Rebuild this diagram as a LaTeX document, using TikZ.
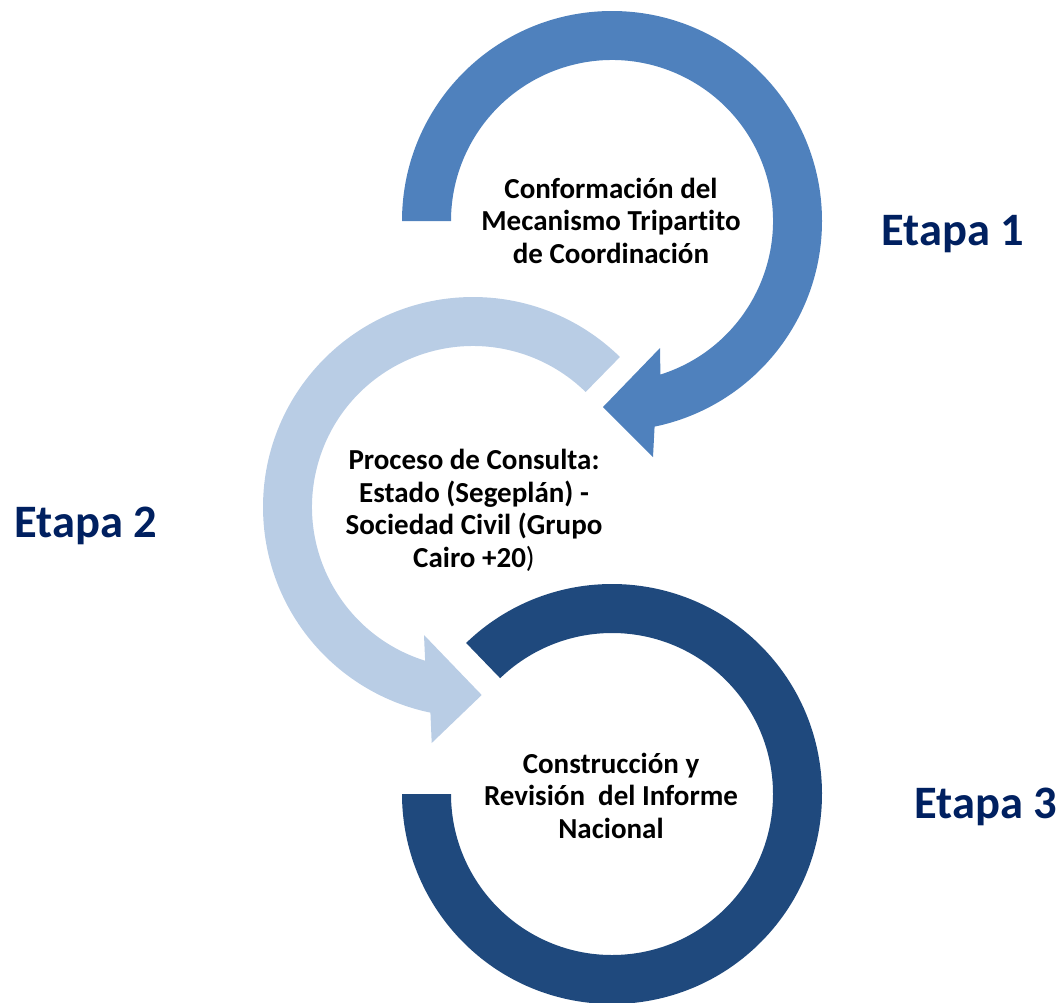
\documentclass[tikz,border=0pt]{standalone}
\usepackage{fontspec}
\setmainfont{Carlito}[Ligatures={NoCommon}]
\usetikzlibrary{calc}
\definecolor{ringA}{HTML}{4F81BD}
\definecolor{ringB}{HTML}{B9CDE5}
\definecolor{ringC}{HTML}{1F497D}
\definecolor{etapa}{HTML}{002060}
\begin{document}
\begin{tikzpicture}[x=1pt,y=-1pt,
  inner/.style={align=center,font=\bfseries\fontsize{29}{32.5}\selectfont,text=black,inner sep=0pt,anchor=base},
  stage/.style={font=\bfseries\fontsize{46.5}{50}\selectfont,text=etapa,inner sep=0pt,anchor=base}]
\useasboundingbox (0,0) rectangle (1060,1002);
% centres
\coordinate (cA) at (612,221);
\coordinate (cB) at (473,507);
\coordinate (cC) at (612,794);
% ring 1
\fill[ringA] ($(cA)+(180:210)$) arc[start angle=180, end angle=438.3, radius=210]
  -- (653,457) -- (603,407) -- (660,348)
  -- ($(cA)+(432.5:161)$) arc[start angle=432.5, end angle=180, radius=161] -- cycle;
% ring 2
\fill[ringB] ($(cB)+(-45.6:210)$) arc[start angle=-45.6, end angle=-258.3, radius=210]
  -- (431.7,743) -- (481.7,695) -- (424,635)
  -- ($(cB)+(-252.7:161)$) arc[start angle=-252.7, end angle=-45.6, radius=161] -- cycle;
% ring 3
\fill[ringC] ($(cC)+(226:210)$) arc[start angle=226, end angle=540, radius=210]
  -- ($(cC)+(540:161)$) arc[start angle=540, end angle=226, radius=161] -- cycle;
% texts (anchor = baseline of the last line)
\node[inner] (tA) at (611,263) {Conformación del\\Mecanismo Tripartito\\de Coordinación};
\node[inner] (tB) at (474,567) {Proceso de Consulta:\\Estado (Segeplán) -\\Sociedad Civil (Grupo\\Cairo +20{\mdseries)}};
\node[inner] (tC) at (611,838) {Construcción y\\Revisión\ \ del Informe\\Nacional};
\node[stage] (eA) at (953,245) {Etapa 1};
\node[stage] (eB) at (86,537) {Etapa 2};
\node[stage] (eC) at (986,818) {Etapa 3};
\end{tikzpicture}
\end{document}
